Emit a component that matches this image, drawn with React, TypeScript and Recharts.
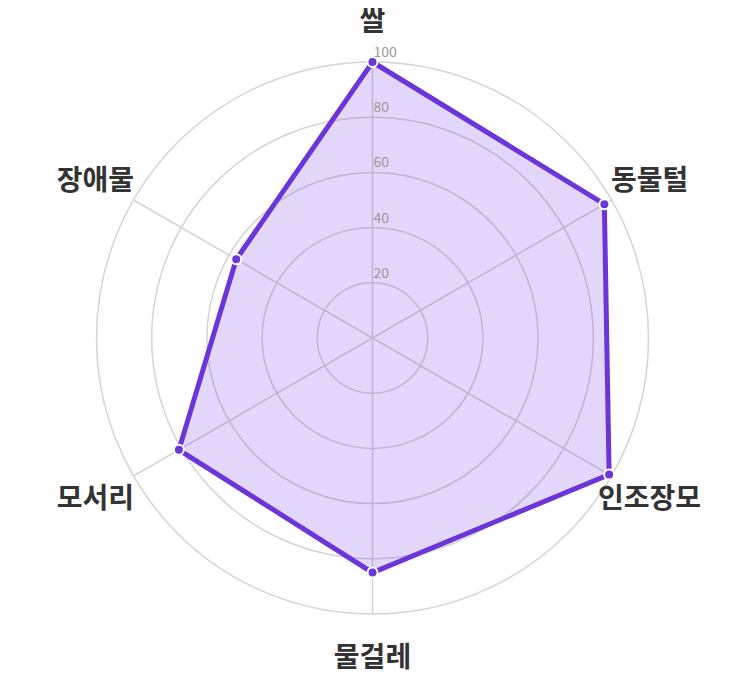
import { RadarChart, Radar, PolarGrid, PolarAngleAxis, PolarRadiusAxis } from "recharts";

const categories = ["쌀", "동물털", "인조장모", "물걸레", "모서리", "장애물"];
const scores = [100, 97, 99, 85, 81, 57];
const radiusTicks = [20, 40, 60, 80, 100];

const data = categories.map((name, i) => ({ name, score: scores[i] }));

const CX = 364.5;
const CY = 330;
const OUTER = 276;
const FONT = "'Noto Sans CJK KR', 'Noto Sans', sans-serif";

function AngleTick(props: any) {
  const { x, y, payload } = props;
  const dx = x - CX;
  const dy = y - CY;
  const len = Math.sqrt(dx * dx + dy * dy) || 1;
  const tx = CX + (dx / len) * 320;
  const ty = CY + (dy / len) * 318 - 1;
  return (
    <text
      x={tx}
      y={ty}
      textAnchor="middle"
      dominantBaseline="central"
      fontFamily={FONT}
      fontWeight={700}
      fontSize={28}
      fill="#333333"
    >
      {payload.value}
    </text>
  );
}

function RadiusTick(props: any) {
  const { x, y, payload } = props;
  if (!radiusTicks.includes(payload.value)) return null;
  return (
    <text x={x + 1} y={y - 5} textAnchor="start" fontFamily={FONT} fontSize={14} fill="#999999">
      {payload.value}
    </text>
  );
}

export default function App() {
  return (
    <RadarChart
      width={737}
      height={667}
      data={data}
      cx={CX}
      cy={CY}
      outerRadius={OUTER}
      margin={{ top: 0, right: 0, bottom: 0, left: 0 }}
    >
      <PolarGrid gridType="circle" stroke="#d4d4d4" strokeWidth={1.5} />
      <PolarAngleAxis dataKey="name" tick={<AngleTick />} tickLine={false} axisLine={false} />
      <PolarRadiusAxis
        angle={90}
        domain={[0, 100]}
        ticks={radiusTicks}
        tick={<RadiusTick />}
        axisLine={false}
        tickLine={false}
      />
      <Radar
        dataKey="score"
        stroke="#6c35d9"
        strokeWidth={5}
        fill="#6c35de"
        fillOpacity={0.2}
        dot={{ r: 5, fill: "#6c35d9", stroke: "#ffffff", strokeWidth: 2, fillOpacity: 1 }}
        isAnimationActive={false}
      />
    </RadarChart>
  );
}
